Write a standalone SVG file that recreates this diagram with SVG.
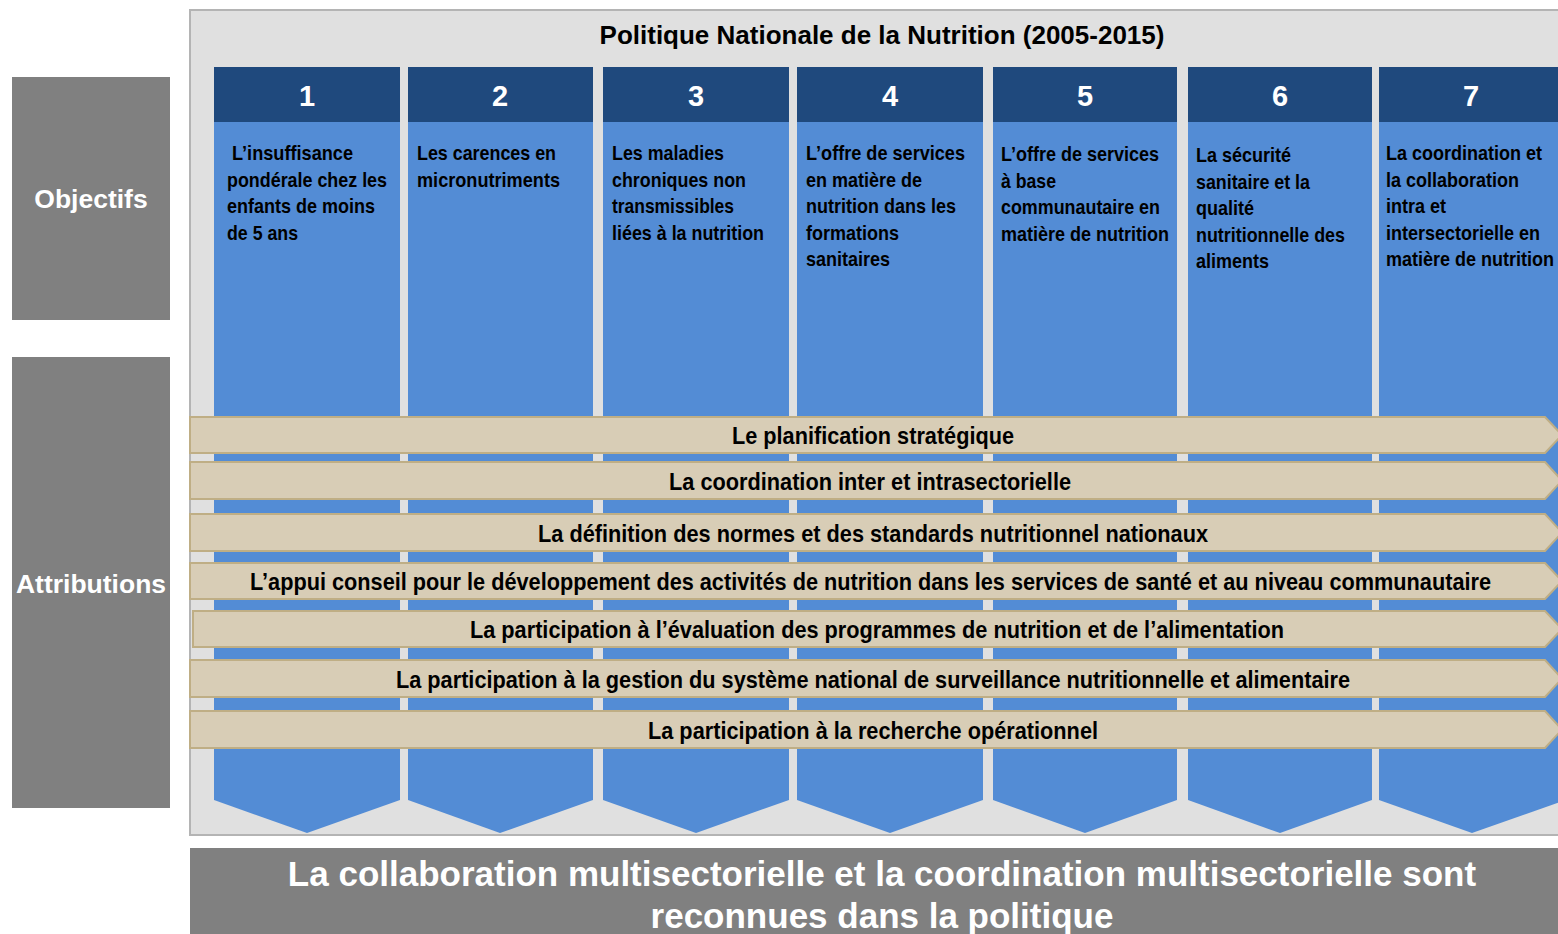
<svg xmlns="http://www.w3.org/2000/svg" width="1558" height="934" viewBox="0 0 1558 934">
<style>
.panel{fill:#e0e0e0;stroke:#b4b4b4;stroke-width:2}
.side{fill:#808080}
.hdr{fill:#1f497d}
.body{fill:#538cd5}
.arr{fill:#d8cdb6;stroke:#bfae85;stroke-width:2}
.num{font-family:"Liberation Sans",Arial,sans-serif;font-weight:bold;font-size:29px;fill:#fff;text-anchor:middle}
.ct{font-family:"Liberation Sans Narrow","Arial Narrow","Liberation Sans",sans-serif;font-weight:bold;font-size:20.5px;fill:#000}
.at{font-family:"Liberation Sans Narrow","Arial Narrow","Liberation Sans",sans-serif;font-weight:bold;font-size:24px;fill:#000;text-anchor:middle}
.st{font-family:"Liberation Sans",Arial,sans-serif;font-weight:bold;font-size:26.5px;fill:#fff;text-anchor:middle}
.title{font-family:"Liberation Sans",Arial,sans-serif;font-weight:bold;font-size:26px;fill:#000;text-anchor:middle}
.ban{font-family:"Liberation Sans",Arial,sans-serif;font-weight:bold;font-size:35px;fill:#fff;text-anchor:middle}
</style>
<rect x="0" y="0" width="1558" height="934" fill="#fff"/>
<g id="panel">
<rect class="panel" x="190" y="10" width="1380" height="825"/>
<text class="title" x="882" y="44">Politique Nationale de la Nutrition (2005-2015)</text>
</g>
<g id="objectifs">
<rect class="side" x="12" y="77" width="158" height="243"/>
<text class="st" x="91" y="208">Objectifs</text>
</g>
<g id="attributions">
<rect class="side" x="12" y="357" width="158" height="451"/>
<text class="st" x="91" y="593">Attributions</text>
</g>
<g id="col1">
<polygon class="body" points="214,122 400,122 400,800 307,833 214,800"/>
<rect class="hdr" x="214" y="67" width="186" height="55"/>
<text class="num" x="307" y="106">1</text>
<text class="ct"><tspan x="232" y="160" textLength="121" lengthAdjust="spacingAndGlyphs">L’insuffisance</tspan></text>
<text class="ct" x="227" y="186.5" textLength="160" lengthAdjust="spacingAndGlyphs">pondérale chez les</text>
<text class="ct" x="227" y="213" textLength="148" lengthAdjust="spacingAndGlyphs">enfants de moins</text>
<text class="ct" x="227" y="239.5" textLength="71" lengthAdjust="spacingAndGlyphs">de 5 ans</text>
</g>
<g id="col2">
<polygon class="body" points="408,122 593,122 593,800 500,833 408,800"/>
<rect class="hdr" x="408" y="67" width="185" height="55"/>
<text class="num" x="500" y="106">2</text>
<text class="ct" x="417" y="160" textLength="139" lengthAdjust="spacingAndGlyphs">Les carences en</text>
<text class="ct" x="417" y="186.5" textLength="143" lengthAdjust="spacingAndGlyphs">micronutriments</text>
</g>
<g id="col3">
<polygon class="body" points="603,122 789,122 789,800 696,833 603,800"/>
<rect class="hdr" x="603" y="67" width="186" height="55"/>
<text class="num" x="696" y="106">3</text>
<text class="ct" x="612" y="160" textLength="112" lengthAdjust="spacingAndGlyphs">Les maladies</text>
<text class="ct" x="612" y="186.5" textLength="134" lengthAdjust="spacingAndGlyphs">chroniques non</text>
<text class="ct" x="612" y="213" textLength="122" lengthAdjust="spacingAndGlyphs">transmissibles</text>
<text class="ct" x="612" y="239.5" textLength="152" lengthAdjust="spacingAndGlyphs">liées à la nutrition</text>
</g>
<g id="col4">
<polygon class="body" points="797,122 983,122 983,800 890,833 797,800"/>
<rect class="hdr" x="797" y="67" width="186" height="55"/>
<text class="num" x="890" y="106">4</text>
<text class="ct" x="806" y="160" textLength="159" lengthAdjust="spacingAndGlyphs">L’offre de services</text>
<text class="ct" x="806" y="186.5" textLength="116" lengthAdjust="spacingAndGlyphs">en matière de</text>
<text class="ct" x="806" y="213" textLength="150" lengthAdjust="spacingAndGlyphs">nutrition dans les</text>
<text class="ct" x="806" y="239.5" textLength="93" lengthAdjust="spacingAndGlyphs">formations</text>
<text class="ct" x="806" y="266" textLength="84" lengthAdjust="spacingAndGlyphs">sanitaires</text>
</g>
<g id="col5">
<polygon class="body" points="993,122 1177,122 1177,800 1085,833 993,800"/>
<rect class="hdr" x="993" y="67" width="184" height="55"/>
<text class="num" x="1085" y="106">5</text>
<text class="ct" x="1001" y="161" textLength="158" lengthAdjust="spacingAndGlyphs">L’offre de services</text>
<text class="ct" x="1001" y="187.5" textLength="55" lengthAdjust="spacingAndGlyphs">à base</text>
<text class="ct" x="1001" y="214" textLength="159" lengthAdjust="spacingAndGlyphs">communautaire en</text>
<text class="ct" x="1001" y="240.5" textLength="168" lengthAdjust="spacingAndGlyphs">matière de nutrition</text>
</g>
<g id="col6">
<polygon class="body" points="1188,122 1372,122 1372,800 1280,833 1188,800"/>
<rect class="hdr" x="1188" y="67" width="184" height="55"/>
<text class="num" x="1280" y="106">6</text>
<text class="ct" x="1196" y="162" textLength="95" lengthAdjust="spacingAndGlyphs">La sécurité</text>
<text class="ct" x="1196" y="188.5" textLength="114" lengthAdjust="spacingAndGlyphs">sanitaire et la</text>
<text class="ct" x="1196" y="215" textLength="58" lengthAdjust="spacingAndGlyphs">qualité</text>
<text class="ct" x="1196" y="241.5" textLength="149" lengthAdjust="spacingAndGlyphs">nutritionnelle des</text>
<text class="ct" x="1196" y="268" textLength="73" lengthAdjust="spacingAndGlyphs">aliments</text>
</g>
<g id="col7">
<polygon class="body" points="1379,122 1566,122 1566,800 1472,833 1379,800"/>
<rect class="hdr" x="1379" y="67" width="187" height="55"/>
<text class="num" x="1471" y="106">7</text>
<text class="ct" x="1386" y="160" textLength="156" lengthAdjust="spacingAndGlyphs">La coordination et</text>
<text class="ct" x="1386" y="186.5" textLength="133" lengthAdjust="spacingAndGlyphs">la collaboration</text>
<text class="ct" x="1386" y="213" textLength="60" lengthAdjust="spacingAndGlyphs">intra et</text>
<text class="ct" x="1386" y="239.5" textLength="154" lengthAdjust="spacingAndGlyphs">intersectorielle en</text>
<text class="ct" x="1386" y="266" textLength="168" lengthAdjust="spacingAndGlyphs">matière de nutrition</text>
</g>
<g id="connectors">
<g id="a1"><polygon class="arr" points="190,417 1545,417 1562,435 1545,453 190,453"/><text class="at" x="873" y="444" textLength="282" lengthAdjust="spacingAndGlyphs">Le planification stratégique</text></g>
<g id="a2"><polygon class="arr" points="190,462 1545,462 1562,480.5 1545,499 190,499"/><text class="at" x="870" y="489.5" textLength="402" lengthAdjust="spacingAndGlyphs">La coordination inter et intrasectorielle</text></g>
<g id="a3"><polygon class="arr" points="190,514 1545,514 1562,532.5 1545,551 190,551"/><text class="at" x="873" y="541.5" textLength="670" lengthAdjust="spacingAndGlyphs">La définition des normes et des standards nutritionnel nationaux</text></g>
<g id="a4"><polygon class="arr" points="190,563 1545,563 1562,581 1545,599 190,599"/><text class="at" x="870.5" y="590" textLength="1241" lengthAdjust="spacingAndGlyphs">L’appui conseil pour le développement des activités de nutrition dans les services de santé et au niveau communautaire</text></g>
<g id="a5"><polygon class="arr" points="193,611 1545,611 1562,629 1545,647 193,647"/><text class="at" x="877" y="638" textLength="814" lengthAdjust="spacingAndGlyphs">La participation à l’évaluation des programmes de nutrition et de l’alimentation</text></g>
<g id="a6"><polygon class="arr" points="190,660 1545,660 1562,678.5 1545,697 190,697"/><text class="at" x="873" y="687.5" textLength="954" lengthAdjust="spacingAndGlyphs">La participation à la gestion du système national de surveillance nutritionnelle et alimentaire</text></g>
<g id="a7"><polygon class="arr" points="190,711 1545,711 1562,729.5 1545,748 190,748"/><text class="at" x="873" y="738.5" textLength="450" lengthAdjust="spacingAndGlyphs">La participation à la recherche opérationnel</text></g>
</g>
<g id="banner">
<rect class="side" x="190" y="848" width="1380" height="90"/>
<text class="ban" x="882" y="886">La collaboration multisectorielle et la coordination multisectorielle sont</text>
<text class="ban" x="882" y="928">reconnues dans la politique</text>
</g>
</svg>
